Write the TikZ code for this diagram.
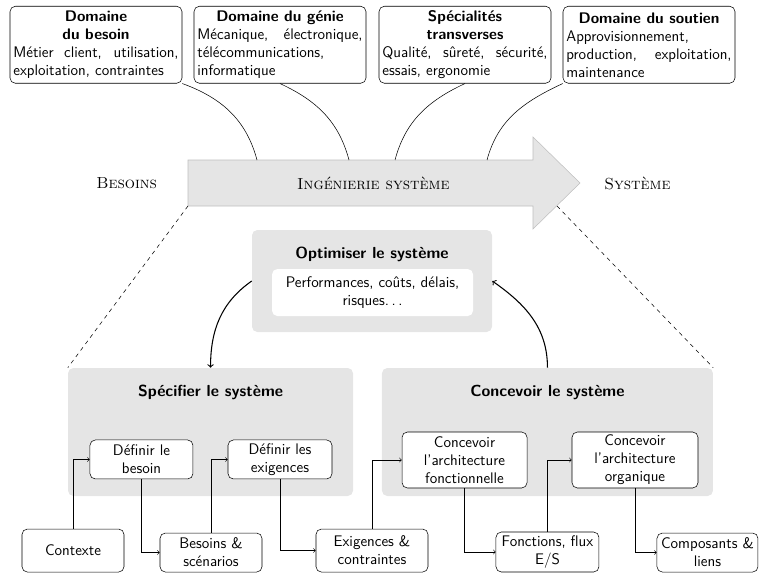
\documentclass[tikz,border=0pt]{standalone}
\usetikzlibrary{calc}

\begin{document}
\begin{tikzpicture}[
		x=1pt, y=1pt,
		font=\fontsize{11.5}{13.5}\selectfont\sffamily,
		fieldbox/.style={draw, rounded corners=4pt, text width=124pt, inner xsep=2.5pt, inner ysep=1.5pt, minimum height=57.75pt, align=justify, anchor=north},
		area/.style={fill=gray!20, rounded corners=4pt, inner sep=0pt},
		areatitle/.style={font=\fontsize{12}{14}\selectfont\sffamily\bfseries},
		taskbox/.style={draw, fill=white, rounded corners=4pt, align=center, inner sep=1pt},
		stage/.style={font=\fontsize{12}{14}\selectfont\rmfamily\scshape},
		roundtrip/.style={->, thick},
		feed/.style={->}
		]
		
		\useasboundingbox (0,0) rectangle (569.25,-430.5);
		
		% domaines
		\node[fieldbox] (dom1) at (72,-4.5) {{\centering\bfseries Domaine\\du besoin\par}Métier client, utilisation,\linebreak exploitation, contraintes};
		\node[fieldbox] (dom2) at (210,-4.5) {{\centering\bfseries Domaine du génie\par}Mécanique, électronique,\linebreak télécommunications,\\informatique};
		\node[fieldbox] (dom3) at (348.75,-4.5) {{\centering\bfseries Spécialités\\transverses\par}Qualité, sûreté, sécurité,\linebreak essais, ergonomie};
		\node[fieldbox] (dom4) at (486.75,-4.5) {{\centering\bfseries Domaine du soutien\par}Approvisionnement,\\production, exploitation,\linebreak maintenance};
		
		% grande fleche
		\draw[fill=gray!20, draw=gray!50] (141,-120) -- (399.75,-120) -- (399.75,-102.75) -- (435,-137.25)
		-- (399.75,-171.75) -- (399.75,-154.5) -- (141,-154.5) -- cycle;
		\coordinate (in1) at (192.75,-120);
		\coordinate (in2) at (261.75,-120);
		\coordinate (in3) at (296.25,-120);
		\coordinate (in4) at (365.25,-120);
		\coordinate (dl) at (141,-154.5);
		\coordinate (dr) at (417.75,-154.5);
		
		\node[stage] (needs) at (95,-137.25) {Besoins};
		\node[stage] (eng) at (280,-137.25) {Ingénierie système};
		\node[stage] (sys) at (478,-137.25) {Système};
		
		\draw (dom1.south east) to[out=-20,in=105] (in1);
		\draw (dom2.south) to[out=-25,in=105] (in2);
		\draw (dom3.south) to[out=205,in=75] (in3);
		\draw (dom4.south west) to[out=205,in=75] (in4);
		
		% zones
		\node[area, minimum width=180pt, minimum height=76.5pt] (optim) at (279,-210.75) {};
		\node[areatitle] (optimtitle) at (279,-190.5) {Optimiser le système};
		\node[fill=white, rounded corners=4pt, align=center, inner sep=1pt, minimum width=150.75pt, minimum height=35.25pt] (perf) at (279.4,-219.4) {Performances, coûts, délais,\\risques.\,.\,.};
		
		\node[area, minimum width=213.75pt, minimum height=96pt] (spec) at (157.9,-324) {};
		\node[areatitle] (spectitle) at (157.9,-294) {Spécifier le système};
		\node[area, minimum width=248.25pt, minimum height=96pt] (conc) at (410.6,-324) {};
		\node[areatitle] (conctitle) at (410.6,-294) {Concevoir le système};
		
		\draw[dashed] (dl) -- (spec.north west);
		\draw[dashed] (dr) -- (conc.north east);
		
		\draw[roundtrip] (optim.west) to[out=215,in=90] (spec.north);
		\draw[roundtrip] (conc.north) to[out=90,in=-35] (optim.east);
		
		% activites
		\node[taskbox, minimum width=77.25pt, minimum height=29.25pt] (def1) at (106.1,-344.6) {Définir le\\besoin};
		\node[taskbox, minimum width=78pt, minimum height=29.25pt] (def2) at (210,-344.6) {Définir les\\exigences};
		\node[taskbox, minimum width=93.75pt, minimum height=42pt] (arch1) at (348.4,-345) {Concevoir\\l’architecture\\fonctionnelle};
		\node[taskbox, minimum width=94.5pt, minimum height=42pt] (arch2) at (476.25,-345) {Concevoir\\l’architecture\\organique};
		
		% produits
		\node[taskbox, minimum width=76.5pt, minimum height=32.25pt] (ctx) at (54.75,-412.9) {Contexte};
		\node[taskbox, minimum width=76.5pt, minimum height=29.25pt] (bes) at (158.25,-414.4) {Besoins \&\\scénarios};
		\node[taskbox, minimum width=84pt, minimum height=32.25pt] (exi) at (279,-412.9) {Exigences \&\\contraintes};
		\node[taskbox, minimum width=77.25pt, minimum height=30pt] (fct) at (410.6,-414) {Fonctions, flux\\E/S};
		\node[taskbox, minimum width=75.75pt, minimum height=29.25pt] (cmp) at (530.6,-414.4) {Composants \&\\liens};
		
		\draw[feed] (ctx.north) |- (def1.west);
		\draw[feed] (def1.south) |- (bes.west);
		\draw[feed] (bes.north) |- (def2.west);
		\draw[feed] (def2.south) |- (exi.west);
		\draw[feed] (exi.north) |- (arch1.west);
		\draw[feed] (arch1.south) |- (fct.west);
		\draw[feed] (fct.north) |- (arch2.west);
		\draw[feed] (arch2.south) |- (cmp.west);
		
	\end{tikzpicture}
\end{document}
